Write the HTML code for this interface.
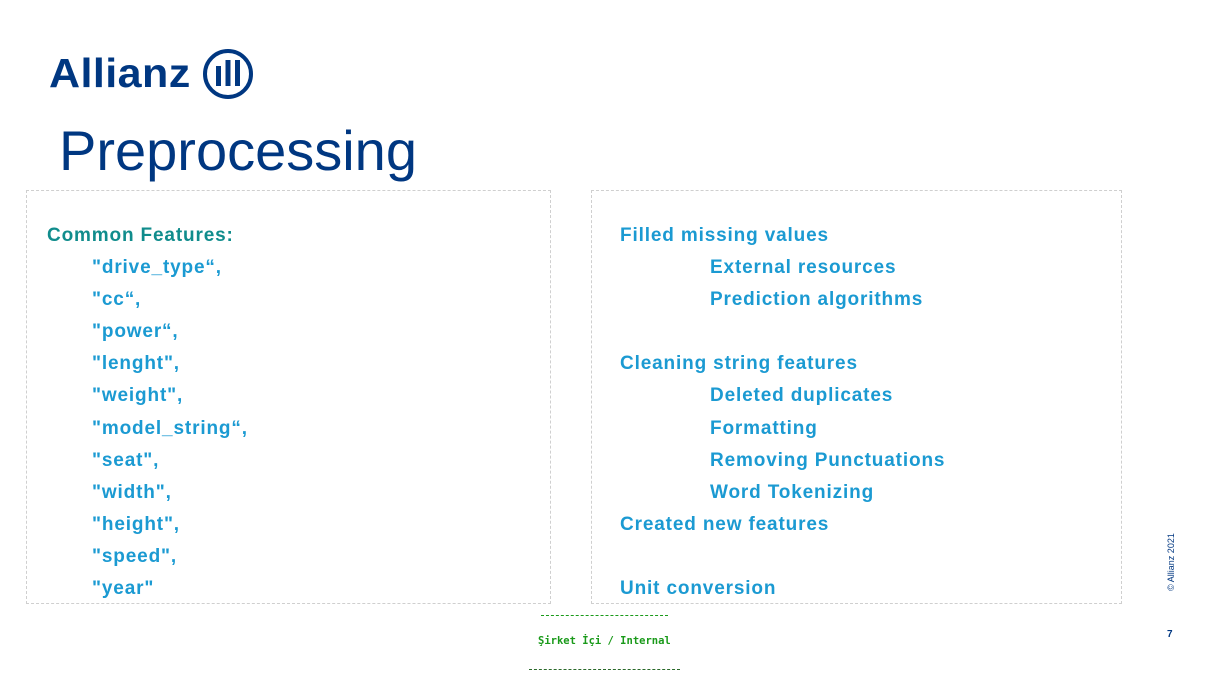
<!DOCTYPE html>
<html><head><meta charset="utf-8"><style>
body{margin:0;width:1210px;height:680px;background:#fff;position:relative;overflow:hidden;font-family:"Liberation Sans",sans-serif}
.t{position:absolute;font-weight:bold;font-size:19px;color:#1b9ad2;letter-spacing:0.85px;white-space:nowrap;line-height:22px}
.box{position:absolute;border:1px dashed #cfcfcf}
</style></head><body>
<div style="position:absolute;left:48px;top:47px;">
<span style="position:absolute;left:1px;top:0;font-weight:bold;font-size:41px;color:#003781;letter-spacing:0.4px;line-height:52px;transform:scaleX(1.05);transform-origin:left">Allianz</span>
<svg style="position:absolute;left:154px;top:1px" width="52" height="52" viewBox="0 0 52 52"><circle cx="26" cy="26" r="23" fill="none" stroke="#003781" stroke-width="4"/><rect x="14" y="18" width="5" height="20" fill="#003781"/><rect x="23.5" y="12" width="5" height="26" fill="#003781"/><rect x="33" y="12" width="5" height="26" fill="#003781"/></svg>
</div>
<div style="position:absolute;left:59px;top:119px;font-size:56px;color:#003781;line-height:64px">Preprocessing</div>
<div class="box" style="left:26px;top:190px;width:523px;height:412px"></div>
<div class="box" style="left:591px;top:190px;width:529px;height:412px"></div>
<div class="t" style="left:47px;top:225px;color:#108c8c">Common Features:</div>
<div class="t" style="left:92px;top:257px">"drive_type“,</div>
<div class="t" style="left:92px;top:289px">"cc“,</div>
<div class="t" style="left:92px;top:321px">"power“,</div>
<div class="t" style="left:92px;top:353px">"lenght",</div>
<div class="t" style="left:92px;top:385px">"weight",</div>
<div class="t" style="left:92px;top:418px">"model_string“,</div>
<div class="t" style="left:92px;top:450px">"seat",</div>
<div class="t" style="left:92px;top:482px">"width",</div>
<div class="t" style="left:92px;top:514px">"height",</div>
<div class="t" style="left:92px;top:546px">"speed",</div>
<div class="t" style="left:92px;top:578px">"year"</div>
<div class="t" style="left:620px;top:225px">Filled missing values</div>
<div class="t" style="left:710px;top:257px">External resources</div>
<div class="t" style="left:710px;top:289px">Prediction algorithms</div>
<div class="t" style="left:620px;top:353px">Cleaning string features</div>
<div class="t" style="left:710px;top:385px">Deleted duplicates</div>
<div class="t" style="left:710px;top:418px">Formatting</div>
<div class="t" style="left:710px;top:450px">Removing Punctuations</div>
<div class="t" style="left:710px;top:482px">Word Tokenizing</div>
<div class="t" style="left:620px;top:514px">Created new features</div>
<div class="t" style="left:620px;top:578px">Unit conversion</div>
<div style="position:absolute;left:1171px;top:562px;transform:translate(-50%,-50%) rotate(-90deg);font-size:9px;color:#003781;white-space:nowrap">© Allianz 2021</div>
<div style="position:absolute;left:1167px;top:629px;font-size:10px;font-weight:bold;color:#003781">7</div>
<div style="position:absolute;left:541px;top:615px;width:127px;border-top:1px dashed #1a9a1a"></div>
<div style="position:absolute;left:538px;top:635px;font-family:'DejaVu Sans Mono','Liberation Mono',monospace;font-weight:bold;font-size:10.5px;color:#1a9a1a;white-space:nowrap">Şirket İçi / Internal</div>
<div style="position:absolute;left:529px;top:669px;width:151px;border-top:1px dashed #2a6a2a"></div>
</body></html>
